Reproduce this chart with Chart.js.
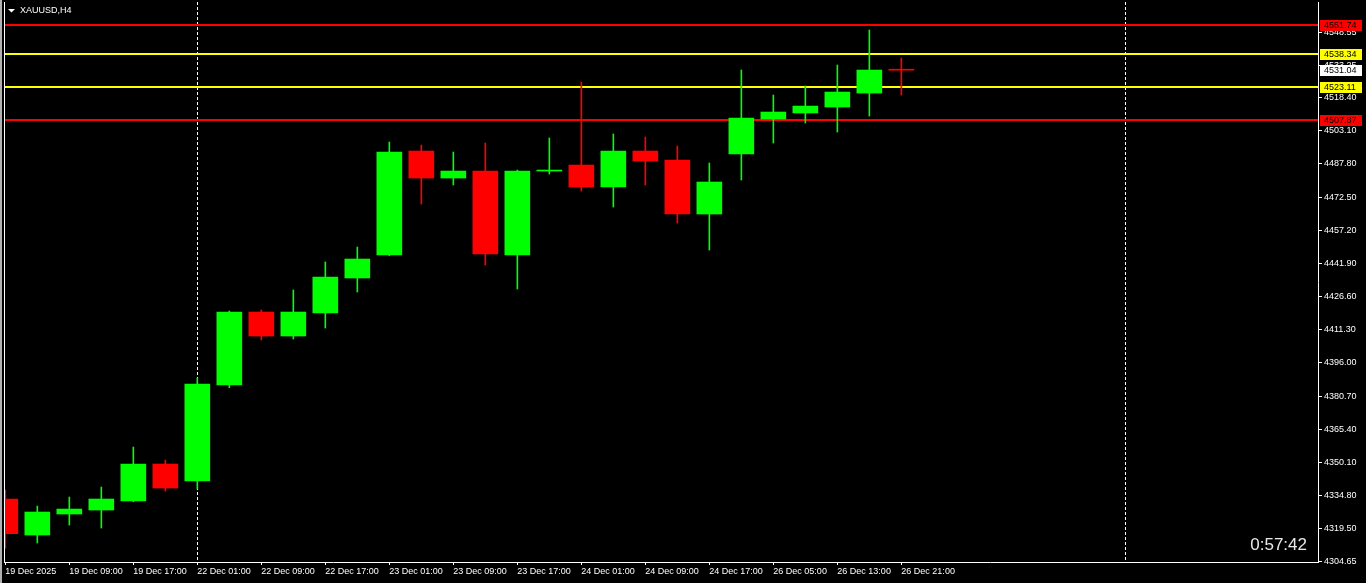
<!DOCTYPE html>
<html>
<head>
<meta charset="utf-8">
<title>XAUUSD,H4</title>
<script src="https://cdn.jsdelivr.net/npm/chart.js@4.4.1/dist/chart.umd.min.js"></script>
<style>
  html, body { margin: 0; padding: 0; background: #000; overflow: hidden; }
  canvas { display: block; }
</style>
</head>
<body>
<canvas id="chartCanvas" width="1366" height="583"></canvas>
<script>
// H4 bars, index 0 = 19 Dec 2025 01:00
const candleIndex = [0, 1, 2, 3, 4, 5, 6, 7, 8, 9, 10, 11, 12, 13, 14, 15, 16, 17, 18, 19, 20, 21, 22, 23, 24, 25, 26, 27, 28];
const opens = [4333.25, 4316.64, 4326.33, 4328.17, 4332.33, 4349.39, 4341.55, 4385.83, 4419.50, 4408.43,
  4419.04, 4435.19, 4445.79, 4493.76, 4481.30, 4484.53, 4445.79, 4484.53, 4487.30, 4477.15,
  4493.76, 4489.60, 4464.70, 4492.38, 4508.52, 4511.30, 4514.05, 4520.50, 4531.12];
const highs = [4337.40, 4330.00, 4334.17, 4338.78, 4357.23, 4351.20, 4389.06, 4419.96, 4420.42, 4429.65,
  4442.57, 4449.48, 4497.90, 4496.50, 4493.30, 4497.45, 4485.00, 4499.76, 4525.59, 4501.60,
  4500.22, 4496.07, 4488.23, 4531.12, 4519.60, 4523.75, 4533.43, 4549.57, 4536.65];
const lows = [4310.60, 4312.95, 4321.25, 4319.87, 4332.00, 4336.90, 4337.86, 4384.60, 4406.60, 4407.05,
  4412.12, 4428.73, 4445.50, 4469.30, 4478.08, 4441.18, 4430.10, 4483.15, 4475.30, 4467.93,
  4478.08, 4460.55, 4448.10, 4480.39, 4497.45, 4506.67, 4502.52, 4509.90, 4519.60];
const closes = [4317.25, 4327.25, 4328.63, 4333.25, 4349.39, 4338.32, 4386.29, 4419.50, 4408.43, 4419.50,
  4435.65, 4443.95, 4493.30, 4481.30, 4484.53, 4446.25, 4484.53, 4484.60, 4477.15, 4493.76,
  4489.15, 4464.70, 4479.47, 4508.98, 4511.75, 4514.50, 4520.97, 4531.12, 4531.04];

// time axis labels (every second bar)
const tickIndex = [0, 2, 4, 6, 8, 10, 12, 14, 16, 18, 20, 22, 24, 26, 28];
const tickLabels = ["19 Dec 2025", "19 Dec 09:00", "19 Dec 17:00", "22 Dec 01:00", "22 Dec 09:00",
  "22 Dec 17:00", "23 Dec 01:00", "23 Dec 09:00", "23 Dec 17:00", "24 Dec 01:00",
  "24 Dec 09:00", "24 Dec 17:00", "26 Dec 05:00", "26 Dec 13:00", "26 Dec 21:00"];

// price axis labels
const priceTicks = [4548.55, 4533.25, 4518.40, 4503.10, 4487.80, 4472.50, 4457.20, 4441.90, 4426.60,
  4411.30, 4396.00, 4380.70, 4365.40, 4350.10, 4334.80, 4319.50, 4304.65];

// horizontal levels + tags
const levelPrices = [4551.74, 4538.34, 4523.11, 4507.87];
const levelColors = ["#ff0000", "#ffff00", "#ffff00", "#ff0000"];
const bidPrice = 4531.04;
const separatorIndex = [6, 35];
const symbolTitle = "XAUUSD,H4";
const timerText = "0:57:42";

const FONT = "Liberation Sans";

document.addEventListener("DOMContentLoaded", () => {
  const candleColors = candleIndex.map((i) => (closes[i] >= opens[i] ? "#00ff00" : "#ff0000"));

  const overlay = {
    id: "mtOverlay",
    beforeDatasetsDraw(chart) {
      const { ctx, chartArea: a, scales: { x, y } } = chart;
      ctx.save();
      // period separators
      ctx.strokeStyle = "#ffffff";
      ctx.lineWidth = 1;
      ctx.setLineDash([3, 2]);
      separatorIndex.forEach((i) => {
        const px = Math.round(x.getPixelForValue(i)) + 0.5;
        ctx.beginPath();
        ctx.moveTo(px, a.top);
        ctx.lineTo(px, a.bottom);
        ctx.stroke();
      });
      ctx.setLineDash([]);
      // level lines
      levelPrices.forEach((p, i) => {
        const py = Math.round(y.getPixelForValue(p));
        ctx.fillStyle = levelColors[i];
        ctx.fillRect(a.left, py - 1, a.right - a.left, 2);
      });
      ctx.restore();
    },
    afterDraw(chart) {
      const { ctx, chartArea: a, scales: { y } } = chart;
      ctx.save();
      // window frame
      ctx.fillStyle = "#b0b0b0";
      ctx.fillRect(0, 0, 2, chart.height);
      ctx.fillStyle = "#ffffff";
      ctx.fillRect(4, a.top, 1, a.bottom - a.top + 1);

      // price tags on the axis
      ctx.font = "9px '" + FONT + "'";
      ctx.textBaseline = "middle";
      ctx.textAlign = "left";
      const tag = (price, bg) => {
        const py = Math.round(y.getPixelForValue(price));
        ctx.fillStyle = bg;
        ctx.fillRect(a.right + 2, py - 5, 42, 11);
        ctx.fillStyle = "#000000";
        ctx.fillText(price.toFixed(2), a.right + 6, py + 0.5);
      };
      levelPrices.forEach((p, i) => tag(p, levelColors[i]));
      tag(bidPrice, "#ffffff");

      // symbol title
      ctx.fillStyle = "#ffffff";
      ctx.beginPath();
      ctx.moveTo(8, 9);
      ctx.lineTo(15, 9);
      ctx.lineTo(11.5, 12.5);
      ctx.closePath();
      ctx.fill();
      ctx.fillText(symbolTitle, 20, 11);

      // bar timer
      ctx.font = "17px '" + FONT + "'";
      ctx.textAlign = "right";
      ctx.textBaseline = "alphabetic";
      ctx.fillStyle = "#e8e8e8";
      ctx.fillText(timerText, a.right - 11, a.bottom - 12);
      ctx.restore();
    },
  };

  const ctx = document.getElementById("chartCanvas").getContext("2d");
  new Chart(ctx, {
    type: "bar",
    data: {
      datasets: [
        {
          label: "wick",
          data: candleIndex.map((i) => ({ x: i, y: [lows[i], highs[i]] })),
          backgroundColor: candleColors,
          barThickness: 1,
          grouped: false,
          clip: 0,
        },
        {
          label: "body",
          data: candleIndex.map((i) => ({ x: i, y: [opens[i], closes[i]] })),
          backgroundColor: candleColors,
          barThickness: 25,
          minBarLength: 1,
          grouped: false,
          clip: 0,
        },
      ],
    },
    options: {
      responsive: false,
      animation: false,
      events: [],
      layout: { padding: { left: 5, top: 2, right: 0, bottom: 0 } },
      plugins: { legend: { display: false }, tooltip: { enabled: false } },
      scales: {
        x: {
          type: "linear",
          min: -0.01,
          max: 41.02,
          offset: false,
          afterBuildTicks: (scale) => {
            scale.ticks = tickIndex.map((v) => ({ value: v }));
          },
          afterFit: (scale) => {
            scale.height = 21;
            scale.paddingLeft = 0;
            scale.paddingRight = 0;
          },
          ticks: {
            color: "#ffffff",
            font: { family: FONT, size: 9 },
            align: "start",
            maxRotation: 0,
            autoSkip: false,
            padding: 1,
            callback: (v) => tickLabels[tickIndex.indexOf(v)],
          },
          grid: { drawOnChartArea: false, offset: false, color: "#ffffff", tickLength: 3 },
          border: { color: "#ffffff", width: 1 },
        },
        y: {
          type: "linear",
          position: "right",
          min: 4304.2,
          max: 4562.5,
          afterBuildTicks: (scale) => {
            scale.ticks = priceTicks.map((v) => ({ value: v }));
          },
          afterFit: (scale) => {
            scale.width = 48;
            scale.paddingTop = 0;
            scale.paddingBottom = 0;
          },
          ticks: {
            color: "#ffffff",
            font: { family: FONT, size: 9 },
            autoSkip: false,
            padding: 2,
            callback: (v) => Number(v).toFixed(2),
          },
          grid: { drawOnChartArea: false, color: "#ffffff", tickLength: 4 },
          border: { color: "#ffffff", width: 1 },
        },
      },
    },
    plugins: [overlay],
  });
});
</script>
</body>
</html>
